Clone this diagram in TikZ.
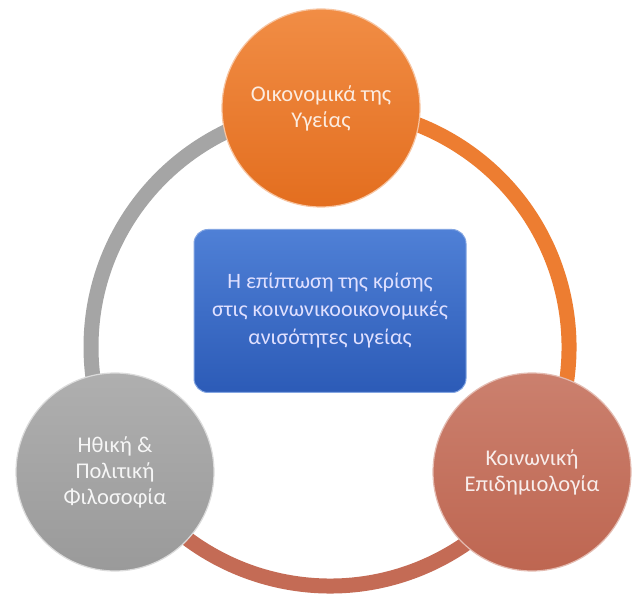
\documentclass[tikz,border=0pt]{standalone}
\usepackage{fontspec}
\setmainfont{Carlito}
\begin{document}
\begin{tikzpicture}[x=1pt,y=1pt,
  ringband/.style={line width=15pt},
  topic/.style={circle, minimum size=198pt, inner sep=0pt, align=center,
    font=\fontsize{22.5}{26}\selectfont, line width=1.2pt},
  hub/.style={rounded corners=14pt, minimum width=272pt, minimum height=163pt,
    inner sep=0pt, align=center, font=\fontsize{22}{28}\selectfont,
    line width=1pt}
]
\definecolor{orangeA}{HTML}{ED7D31}
\definecolor{orangeT}{HTML}{F18D45}
\definecolor{orangeB}{HTML}{E36E1F}
\definecolor{salmonA}{HTML}{C46B55}
\definecolor{salmonT}{HTML}{CB806E}
\definecolor{salmonB}{HTML}{BE6651}
\definecolor{greyA}{HTML}{A5A5A5}
\definecolor{greyT}{HTML}{AFAFAF}
\definecolor{greyB}{HTML}{9A9A9A}
\definecolor{blueT}{HTML}{4F80D6}
\definecolor{blueB}{HTML}{2C5BB7}

\useasboundingbox (0,0) rectangle (636,594);
\fill[white] (0,0) rectangle (636,594);

% ring joining the three topics
\coordinate (ring) at (330,247);
\draw[ringband, draw=greyA]   ([shift={(90:239)}]ring)  arc[start angle=90,  end angle=210, radius=239];
\draw[ringband, draw=salmonA] ([shift={(210:239)}]ring) arc[start angle=210, end angle=330, radius=239];
\draw[ringband, draw=orangeA] ([shift={(-30:239)}]ring) arc[start angle=-30, end angle=90,  radius=239];

% central box
\node[hub, top color=blueT, bottom color=blueB, draw=blueT!70!white,
      text=white!88!blue] (hub) at (330,283)
  {Η επίπτωση της κρίσης\\στις κοινωνικοοικονομικές\\ανισότητες υγείας};

% topics on the ring
\node[topic, top color=orangeT, bottom color=orangeB, draw=orangeA!45!white,
      text=orangeA!15!white] (eco) at (321,486)
  {Οικονομικά της\\Υγείας};
\node[topic, top color=salmonT, bottom color=salmonB, draw=salmonA!45!white,
      text=salmonA!12!white] (epi) at (532,122)
  {Κοινωνική\\Επιδημιολογία};
\node[topic, top color=greyT, bottom color=greyB, draw=greyA!40!white,
      text=greyA!10!white] (phil) at (115,122)
  {Ηθική \&\\Πολιτική\\Φιλοσοφία};
\end{tikzpicture}
\end{document}
